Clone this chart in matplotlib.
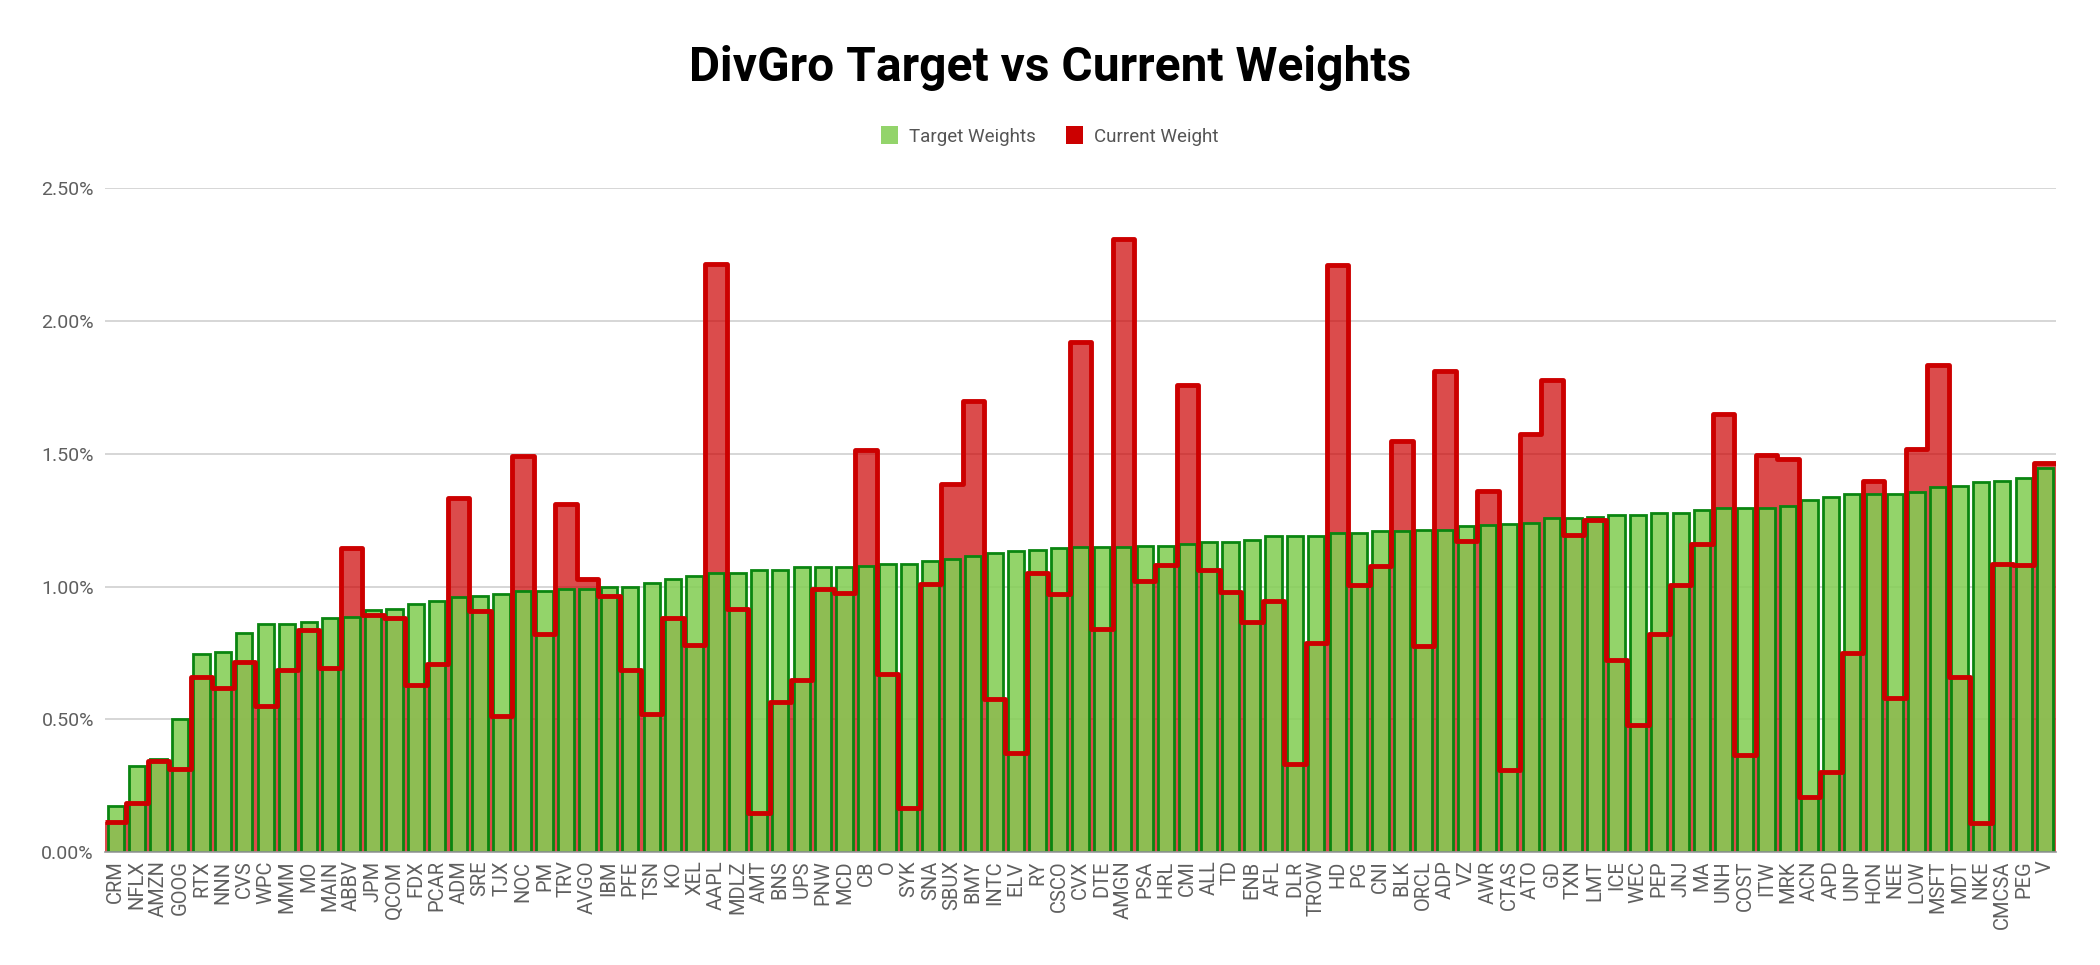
import numpy as np
import matplotlib
matplotlib.use("Agg")
import matplotlib.pyplot as plt
from matplotlib.ticker import FuncFormatter, MultipleLocator
from matplotlib.patches import Patch

plt.rcParams['font.family'] = ['Roboto', 'DejaVu Sans']

# --- data (percent of portfolio) ---
tickers = ["CRM", "NFLX", "AMZN", "GOOG", "RTX", "NNN", "CVS", "WPC", "MMM", "MO",
           "MAIN", "ABBV", "JPM", "QCOM", "FDX", "PCAR", "ADM", "SRE", "TJX", "NOC",
           "PM", "TRV", "AVGO", "IBM", "PFE", "TSN", "KO", "XEL", "AAPL", "MDLZ",
           "AMT", "BNS", "UPS", "PNW", "MCD", "CB", "O", "SYK", "SNA", "SBUX",
           "BMY", "INTC", "ELV", "RY", "CSCO", "CVX", "DTE", "AMGN", "PSA", "HRL",
           "CMI", "ALL", "TD", "ENB", "AFL", "DLR", "TROW", "HD", "PG", "CNI",
           "BLK", "ORCL", "ADP", "VZ", "AWR", "CTAS", "ATO", "GD", "TXN", "LMT",
           "ICE", "WEC", "PEP", "JNJ", "MA", "UNH", "COST", "ITW", "MRK", "ACN",
           "APD", "UNP", "HON", "NEE", "LOW", "MSFT", "MDT", "NKE", "CMCSA", "PEG",
           "V"]

target = [0.173, 0.326, 0.351, 0.503, 0.745, 0.753, 0.825, 0.860, 0.860, 0.867,
          0.881, 0.886, 0.911, 0.917, 0.934, 0.947, 0.959, 0.965, 0.971, 0.982,
          0.982, 0.989, 0.989, 1.000, 1.000, 1.013, 1.027, 1.038, 1.050, 1.050,
          1.061, 1.061, 1.074, 1.074, 1.074, 1.079, 1.085, 1.085, 1.098, 1.103,
          1.116, 1.127, 1.133, 1.139, 1.144, 1.147, 1.147, 1.147, 1.153, 1.153,
          1.160, 1.166, 1.166, 1.177, 1.191, 1.191, 1.191, 1.203, 1.203, 1.209,
          1.209, 1.214, 1.214, 1.227, 1.233, 1.235, 1.241, 1.257, 1.257, 1.262,
          1.270, 1.270, 1.275, 1.275, 1.288, 1.294, 1.294, 1.294, 1.305, 1.326,
          1.336, 1.349, 1.349, 1.349, 1.355, 1.375, 1.379, 1.392, 1.397, 1.408,
          1.447]

current = [0.113, 0.184, 0.343, 0.312, 0.660, 0.619, 0.716, 0.551, 0.685, 0.836,
           0.692, 1.145, 0.894, 0.883, 0.631, 0.710, 1.335, 0.908, 0.513, 1.490,
           0.822, 1.310, 1.027, 0.963, 0.687, 0.521, 0.881, 0.779, 2.216, 0.914,
           0.149, 0.567, 0.647, 0.989, 0.975, 1.514, 0.669, 0.167, 1.008, 1.387,
           1.700, 0.578, 0.375, 1.052, 0.970, 1.920, 0.840, 2.310, 1.020, 1.081,
           1.759, 1.062, 0.980, 0.868, 0.946, 0.330, 0.789, 2.210, 1.006, 1.076,
           1.547, 0.775, 1.810, 1.171, 1.361, 0.309, 1.574, 1.777, 1.195, 1.251,
           0.723, 0.479, 0.820, 1.005, 1.161, 1.648, 0.367, 1.494, 1.481, 0.209,
           0.302, 0.748, 1.397, 0.579, 1.518, 1.833, 0.658, 0.111, 1.085, 1.082,
           1.466]

n = len(tickers)
x = np.arange(n)
edges = np.arange(n + 1) - 0.5

fig = plt.figure(figsize=(21, 9.65), dpi=100)
ax = fig.add_axes([0.05, 0.117, 0.929, 0.688])

red = '#cc0000'
green_face = (132 / 255, 206 / 255, 85 / 255, 0.88)
green_edge = '#0a8510'

# stepped area for current weight
ax.stairs(current, edges, baseline=0, fill=True, color=(0.8, 0, 0, 0.7),
          linewidth=0, zorder=1)
ax.bar(x, target, width=0.76, color=green_face, edgecolor=green_edge,
       linewidth=2, zorder=2)
ax.stairs(current, edges, baseline=None, color=red, linewidth=3.5,
          joinstyle='round', zorder=3)

ax.set_xlim(-0.5, n - 0.5)
ax.set_ylim(0, 2.5)
ax.yaxis.set_major_locator(MultipleLocator(0.5))
ax.yaxis.set_major_formatter(FuncFormatter(lambda v, p: f"{v:.2f}%"))
ax.grid(axis='y', color='#d0d0d0', linewidth=1.2, zorder=0)
ax.set_axisbelow(True)

ax.set_xticks(x)
ax.set_xticklabels(tickers, rotation=90, fontsize=14.5, color='#5f5f5f')
ax.tick_params(axis='y', labelsize=14, labelcolor='#5f5f5f', length=0, pad=8)
ax.tick_params(axis='x', length=0, pad=6)

for s in ['top', 'right', 'left']:
    ax.spines[s].set_visible(False)
ax.spines['bottom'].set_color('#999999')
ax.spines['bottom'].set_linewidth(1.2)

fig.text(0.5, 0.93, "DivGro Target vs Current Weights", ha='center', va='center',
         fontsize=34.5, fontweight='bold', color='black')

handles = [Patch(facecolor='#93d46b', edgecolor='none', label='Target Weights'),
           Patch(facecolor=red, edgecolor='none', label='Current Weight')]
fig.legend(handles=handles, loc='center', bbox_to_anchor=(0.5, 0.859), ncol=2,
           frameon=False, fontsize=13.5, labelcolor='#555555',
           handlelength=0.9, handleheight=1.1, handletextpad=0.6,
           columnspacing=1.6)

fig.savefig("out.png", dpi=100)
